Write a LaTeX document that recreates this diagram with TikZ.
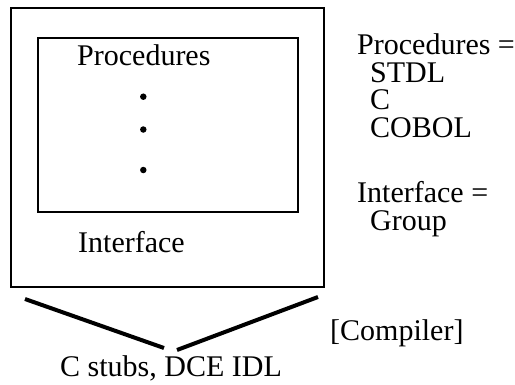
\documentclass[tikz,border=0pt]{standalone}
\usepackage{fontspec}
\setmainfont{Liberation Serif}
\begin{document}
\begin{tikzpicture}[x=1pt,y=-1pt,
  lbl/.style={inner sep=0pt,anchor=base west,font=\fontsize{30}{30}\selectfont},
  list/.style={inner sep=0pt,anchor=base west,align=left,font=\fontsize{30}{27.4}\selectfont},
  brace/.style={line width=4pt},
  dot/.style={circle,fill,inner sep=0pt,minimum size=6.5pt}]
\useasboundingbox (0,0) rectangle (515,384);
% module outline and procedure pane
\draw[line width=2.6pt] (11,8) rectangle (324,287);
\draw[line width=2pt] (38,38) rectangle (298,212);
\node[lbl] (proc) at (77,65) {Procedures};
\node[dot] (d1) at (143.3,96.7) {};
\node[dot] (d2) at (143.3,129.5) {};
\node[dot] (d3) at (143.3,170) {};
\node[lbl] (intf) at (78,252) {Interface};
% legend on the right (anchored at the baseline of the last line)
\node[list] (pl) at (357,137) {Procedures =\\\hspace*{13pt}STDL\\\hspace*{13pt}C\\\hspace*{13pt}COBOL};
\node[list] (il) at (357,230) {Interface =\\\hspace*{13pt}Group};
% compiler funnel
\coordinate (la) at (25,299);
\coordinate (lb) at (164,348);
\coordinate (ra) at (177,350);
\coordinate (rb) at (318,297);
\draw[brace] (la) -- (lb);
\draw[brace] (ra) -- (rb);
\node[lbl] (comp) at (330,340) {[Compiler]};
\node[lbl] (out) at (60,376) {C stubs, DCE IDL};
\end{tikzpicture}
\end{document}
